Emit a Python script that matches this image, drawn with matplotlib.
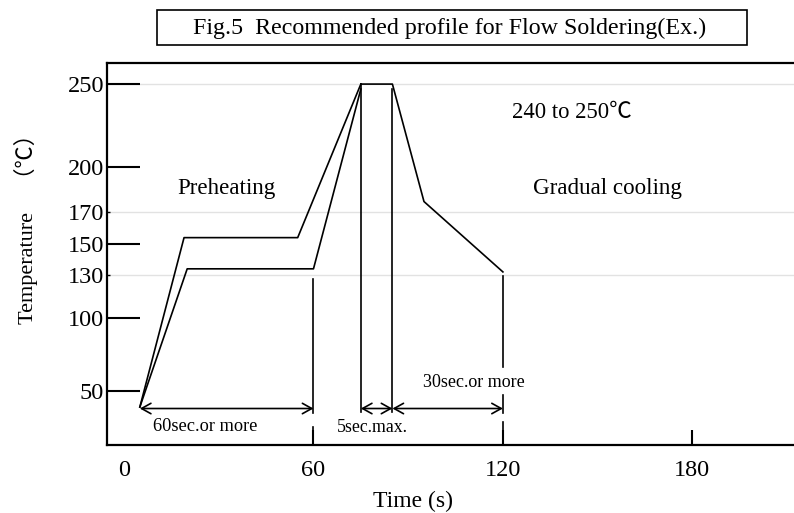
import numpy as np
import matplotlib
matplotlib.use("Agg")
import matplotlib.pyplot as plt
from matplotlib.patches import Rectangle

# profile data (time s, temperature C)
upper_t = [5, 19, 55, 75]
upper_T = [39, 154, 154, 250]
lower_t = [5, 20, 60, 75]
lower_T = [39, 134, 134, 247]
peak_t = [75, 85, 95, 120]
peak_T = [250, 250, 177, 132]

yticks_major = [50, 100, 150, 200, 250]
yticks_minor = [130, 170]
grid_T = [250, 170, 130]
xticks = [0, 60, 120, 180]

plt.rcParams['font.family'] = ['Liberation Serif', 'Noto Sans CJK JP', 'DejaVu Sans']

# the drawing's temperature axis is not evenly spaced, follow its tick spacing
scale_T = np.array([0, 50, 100, 130, 150, 170, 200, 250, 300])
scale_p = np.array([49, 122, 195, 238, 269, 301, 346, 429, 512])

def fwd(v):
    return np.interp(v, scale_T, scale_p)

def inv(v):
    return np.interp(v, scale_p, scale_T)

fig = plt.figure(figsize=(7.94, 5.13), dpi=100)
ax = fig.add_axes([107/794, 68/513, 687/794, 382/513])
ax.set_yscale('function', functions=(fwd, inv))
ax.set_xlim(-5.4, 212.2)
ax.set_ylim(13, 262.7)

for g in grid_T:
    ax.axhline(g, color='#e2e2e2', lw=1.0, zorder=0)

lw = 1.2
ax.plot(upper_t, upper_T, color='k', lw=lw)
ax.plot(lower_t, lower_T, color='k', lw=lw)
ax.plot(peak_t, peak_T, color='k', lw=lw)

# dimension lines
ax.plot([60, 60], [127, 35], color='k', lw=lw)
ax.plot([60, 60], [25.3, 13], color='k', lw=lw)
ax.plot([120, 120], [129, 66.4], color='k', lw=lw)
ax.plot([120, 120], [47.3, 35], color='k', lw=lw)
ax.plot([120, 120], [28.8, 13], color='k', lw=lw)
ax.plot([75, 75], [250, 35.6], color='k', lw=lw)
ax.plot([85, 85], [247, 35.6], color='k', lw=lw)

aprops = dict(arrowstyle='<->,head_length=0.45,head_width=0.25', lw=lw,
              color='k', shrinkA=0, shrinkB=0, mutation_scale=15)
ax.annotate('', xy=(60, 38), xytext=(5, 38), arrowprops=aprops)
ax.annotate('', xy=(85, 38), xytext=(75, 38), arrowprops=aprops)
ax.annotate('', xy=(120, 38), xytext=(85, 38), arrowprops=aprops)

ax.text(32.6, 186, 'Preheating', fontsize=16.6, ha='center', va='center')
ax.text(153, 185.5, 'Gradual cooling', fontsize=16.6, ha='center', va='center')
ax.text(142, 233, '240 to 250℃', fontsize=16.3, ha='center', va='center')
ax.text(25.6, 26, '60sec.or more', fontsize=13.2, ha='center', va='center')
ax.text(78.5, 25, '5sec.max.', fontsize=12.8, ha='center', va='center')
ax.text(110.8, 55.5, '30sec.or more', fontsize=13, ha='center', va='center')

ax.spines['right'].set_visible(False)
for s in ['left', 'bottom', 'top']:
    ax.spines[s].set_linewidth(1.6)

ax.set_yticks(yticks_major)
ax.set_yticklabels([str(v) for v in yticks_major])
ax.set_yticks(yticks_minor, minor=True)
ax.set_yticklabels([str(v) for v in yticks_minor], minor=True)
ax.tick_params(axis='y', which='major', direction='in', length=24, width=1.5,
               labelsize=17.5, pad=2)
ax.tick_params(axis='y', which='minor', direction='in', length=2, width=1.0,
               labelsize=17.5, pad=2)
ax.set_xticks(xticks)
ax.set_xticklabels([str(v) for v in xticks])
ax.tick_params(axis='x', direction='in', length=11, width=1.5, labelsize=17.5, pad=11)
ax.xaxis.get_major_ticks()[0].tick1line.set_visible(False)

ax.set_xlabel('Time (s)', fontsize=17)
ax.xaxis.set_label_coords(0.445, -0.121)
ax.set_ylabel('Temperature\u3000（℃）', fontsize=16)
ax.yaxis.set_label_coords(-0.101, 0.58)

fig.patches.append(Rectangle((157/794, 1 - 45/513), 590/794, 35/513,
                             transform=fig.transFigure, fill=False,
                             edgecolor='k', lw=1.2))
fig.text(450/794, 1 - 28/513, 'Fig.5  Recommended profile for Flow Soldering(Ex.)',
         fontsize=17.3, ha='center', va='center')

fig.savefig('out.png', dpi=100)
